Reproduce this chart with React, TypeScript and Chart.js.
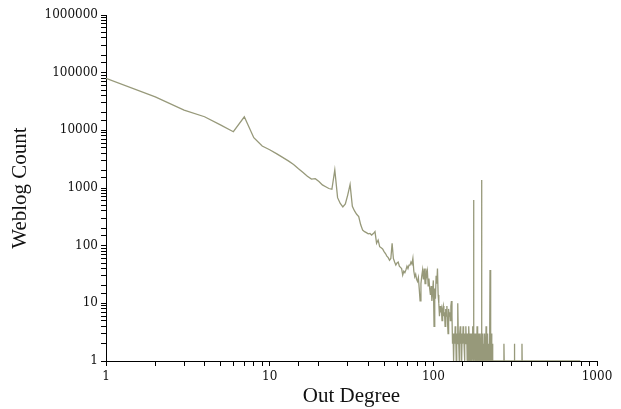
import React, { useEffect, useRef } from 'react';
import { Chart, registerables } from 'chart.js';

Chart.register(...registerables);

const outDegree = [
  1, 2, 3, 4, 5, 6, 7, 8, 9, 10, 11, 12, 13, 14, 15, 16, 17, 18, 19, 20,
  21, 22, 23, 24, 25, 26, 27, 28, 29, 30, 31, 32, 33, 34, 35, 36, 37, 38, 39, 40,
  41, 42, 43, 44, 45, 46, 47, 48, 49, 50, 51, 52, 53, 54, 55, 56, 57, 58, 59, 60,
  61, 62, 63, 64, 65, 66, 67, 68, 69, 70, 71, 72, 73, 74, 75, 76, 77, 78, 79, 80,
  81, 82, 83, 84, 85, 86, 87, 88, 89, 90, 91, 92, 93, 94, 95, 96, 97, 98, 99, 100,
  101, 102, 103, 104, 105, 106, 107, 108, 109, 110, 111, 112, 113, 114, 115, 116, 117, 118, 119, 120,
  121, 122, 123, 124, 125, 126, 127, 128, 129, 130, 131, 132, 133, 134, 135, 136, 137, 138, 139, 140,
  141, 142, 143, 144, 145, 146, 147, 148, 149, 150, 151, 152, 153, 154, 155, 156, 157, 158, 159, 160,
  161, 162, 163, 164, 165, 166, 167, 168, 169, 170, 171, 172, 173, 174, 175, 176, 177, 178, 179, 180,
  181, 182, 183, 184, 185, 186, 187, 188, 189, 190, 191, 192, 193, 194, 195, 196, 197, 198, 199, 200,
  201, 202, 203, 204, 205, 206, 207, 208, 209, 210, 211, 212, 213, 214, 215, 216, 217, 218, 219, 220,
  221, 222, 223, 224, 225, 226, 227, 228, 229, 230, 231, 232, 233, 234, 235,
  250, 269, 270, 271, 290, 312, 313, 314, 330, 347, 348, 349, 400, 500, 600, 700, 790,
];

const weblogCount = [
  80000, 38000, 22500, 17200, 12400, 9460, 17200, 7450, 5350, 4600,
  3950, 3400, 2950, 2550, 2150, 1850, 1600, 1430, 1450, 1300,
  1130, 1050, 980, 950, 2050, 680, 540, 470, 530, 760,
  1150, 480, 400, 350, 320, 230, 186, 175, 168, 160,
  163, 153, 162, 175, 110, 125, 96, 92, 88, 79,
  73, 66, 62, 56, 60, 110, 60, 52, 46, 50,
  52, 44, 42, 40, 31, 36, 34, 38, 44, 40,
  46, 46, 52, 48, 60, 36, 29, 32, 26, 24,
  28, 18, 11, 22, 30, 38, 26, 40, 22, 40,
  30, 36, 20, 27, 18, 14, 20, 11, 16, 25,
  4, 18, 12, 30, 22, 40, 14, 10, 6, 9,
  7, 8, 5, 8, 9, 6, 7, 4, 8, 6,
  9, 5, 3, 8, 6, 7, 5, 9, 11, 6,
  2, 3, 1, 3, 2, 4, 3, 1, 3, 2,
  10, 3, 2, 1, 3, 4, 2, 3, 1, 3,
  2, 4, 3, 2, 1, 3, 2, 4, 2, 3,
  1, 2, 3, 1, 4, 2, 1, 3, 2, 1,
  3, 1, 2, 4, 1, 620, 1, 3, 2, 1,
  3, 1, 2, 1, 4, 2, 1, 3, 1, 2,
  1, 3, 1, 2, 1, 3, 1380, 1, 2, 1,
  3, 1, 2, 1, 1, 3, 1, 2, 1, 4,
  1, 2, 1, 1, 3, 1, 2, 1, 1, 2,
  1, 38, 1, 2, 1, 1, 3, 1, 1, 2,
  1, 1, 1, 1, 1,
  1, 1, 2, 1, 1, 1, 2, 1, 1, 1, 2, 1, 1, 1, 1, 1, 1,
];

const xTickLabels = ['1', '10', '100', '1000'];
const yTickLabels = ['1', '10', '100', '1000', '10000', '100000', '1000000'];

const xTitle = 'Out Degree';
const yTitle = 'Weblog Count';

function decadeLabel(labels: string[]) {
  return (value: any) => {
    const v = Number(value);
    const found = labels.find((l) => Math.abs(Number(l) - v) < 1e-6 * Math.max(1, v));
    return found ?? '';
  };
}

export default function App() {
  const ref = useRef<HTMLCanvasElement>(null);

  useEffect(() => {
    document.body.style.margin = '0';
    const canvas = ref.current;
    if (!canvas) return;
    const tickFont = { family: 'DejaVu Serif', size: 12 };
    const titleFont = { family: 'Liberation Serif', size: 21 };
    const chart = new Chart(canvas, {
      type: 'line',
      data: {
        datasets: [
          {
            data: outDegree.map((x, i) => ({ x, y: weblogCount[i] })),
            borderColor: '#97997a',
            borderWidth: 1.3,
            pointRadius: 0,
            fill: false,
            tension: 0,
          },
        ],
      },
      options: {
        responsive: false,
        animation: false,
        layout: { padding: { left: 0, right: 24, top: 15, bottom: 0 } },
        plugins: { legend: { display: false }, tooltip: { enabled: false } },
        scales: {
          x: {
            type: 'logarithmic',
            min: 1,
            max: 1000,
            afterFit: (s: any) => {
              s.height = 48;
            },
            border: { display: true, color: '#000', width: 1 },
            grid: { drawOnChartArea: false, drawTicks: true, tickLength: 5, color: '#000', tickColor: '#000' },
            ticks: {
              autoSkip: false,
              maxRotation: 0,
              padding: 4,
              color: '#111',
              font: tickFont,
              callback: decadeLabel(xTickLabels),
            },
            title: { display: true, text: xTitle, color: '#111', font: titleFont, padding: { top: 0, bottom: 0 } },
          },
          y: {
            type: 'logarithmic',
            min: 1,
            max: 1000000,
            afterFit: (s: any) => {
              s.width = 106;
            },
            border: { display: true, color: '#000', width: 1 },
            grid: { drawOnChartArea: false, drawTicks: true, tickLength: 5, color: '#000', tickColor: '#000' },
            ticks: {
              autoSkip: false,
              padding: 3,
              color: '#111',
              font: tickFont,
              callback: decadeLabel(yTickLabels),
            },
            title: { display: true, text: yTitle, color: '#111', font: titleFont, padding: { top: 8, bottom: 0 } },
          },
        },
      },
    } as any);
    return () => chart.destroy();
  }, []);

  return (
    <div style={{ width: 621, height: 409 }}>
      <canvas ref={ref} width={621} height={409} style={{ display: 'block' }} />
    </div>
  );
}
